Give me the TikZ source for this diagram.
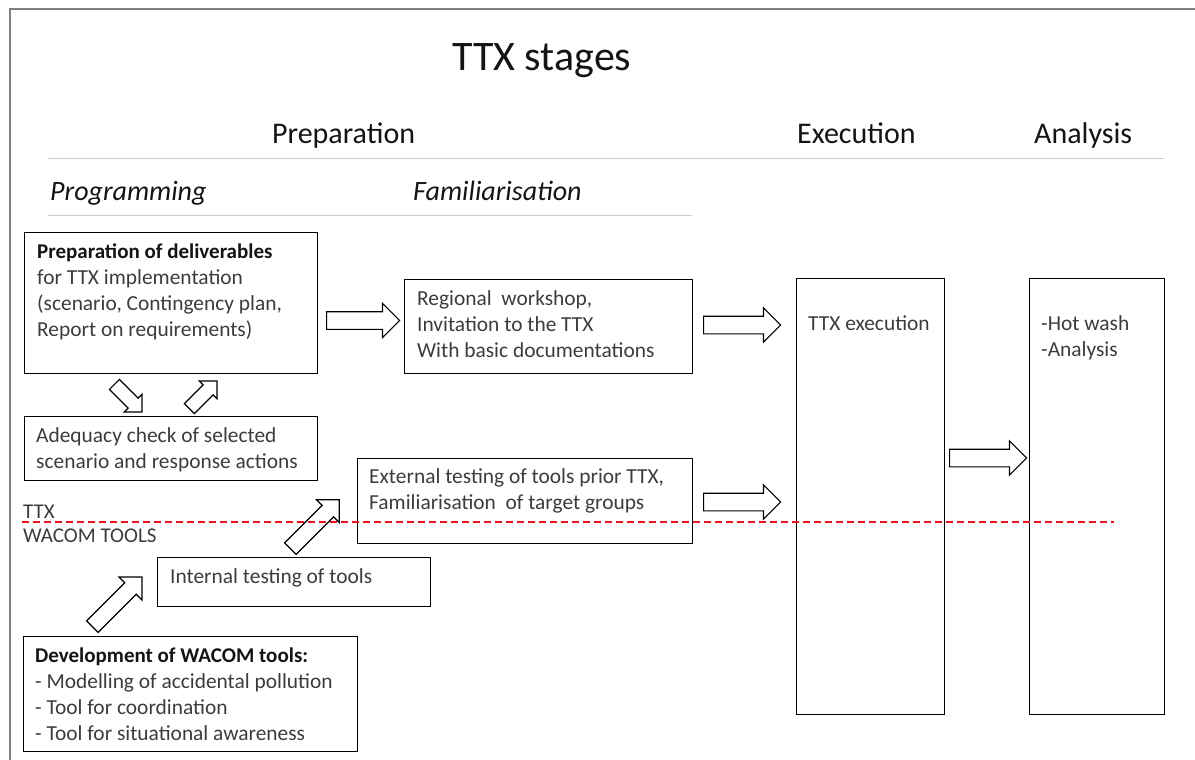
\documentclass[tikz,border=0pt]{standalone}
\usepackage{fontspec}
\setmainfont{Carlito}
\usetikzlibrary{shapes.arrows}

\definecolor{bodytext}{HTML}{3C3C3C}
\definecolor{headtext}{HTML}{141414}
\definecolor{framegray}{HTML}{808080}
\definecolor{rulegray}{HTML}{CDCDCD}
\definecolor{splitred}{HTML}{E8141E}

% bold first line of a box
\newcommand{\boxhead}[1]{{\fontsize{21}{26}\selectfont\textcolor{headtext}{\textbf{#1}}}}

\begin{document}
\begin{tikzpicture}[x=1pt,y=-1pt,
  stagebox/.style={draw=black, line width=1.4pt, anchor=north west, inner sep=0pt},
  boxtext/.style={anchor=base west, inner sep=0pt, text=bodytext,
    font=\fontsize{21.4}{26}\selectfont},
  heading/.style={anchor=base west, inner sep=0pt, text=headtext,
    font=\fontsize{30}{36}\selectfont},
  subheading/.style={anchor=base west, inner sep=0pt, text=headtext,
    font=\fontsize{28}{34}\selectfont\itshape},
  sidelabel/.style={anchor=base west, inner sep=0pt, text=bodytext,
    font=\fontsize{21}{26}\selectfont},
  flowarrow/.style={single arrow, draw=black, line width=1.2pt, fill=white,
    inner xsep=0pt, single arrow tip angle=90, anchor=tail},
  bigarrow/.style={flowarrow, inner ysep=8.25pt, single arrow head extend=8.25pt,
    minimum height=#1},
  midarrow/.style={flowarrow, inner ysep=7.5pt, single arrow head extend=8pt,
    minimum height=#1},
  smallarrow/.style={flowarrow, inner ysep=6.5pt, single arrow head extend=5.5pt,
    minimum height=#1},
]
\useasboundingbox (0,0) rectangle (1195,760);

% page frame
\draw[framegray, line width=1.5pt] (10,760) -- (10,9) -- (1195,9);

% titles and stage headings
\node[anchor=base west, inner sep=0pt, text=headtext, font=\fontsize{42}{50}\selectfont]
  (title) at (452,71) {TTX stages};
\node[heading] (hprep) at (272,143) {Preparation};
\node[heading] (hexec) at (797,143) {Execution};
\node[heading] (hana)  at (1034,143) {Analysis};
\draw[rulegray, line width=1pt] (48,158) -- (1164,158);
\node[subheading] (hprog) at (50,200) {Programming};
\node[subheading] (hfam)  at (413,200) {Familiarisation};
\draw[rulegray, line width=1pt] (48,215) -- (692,215);

% boxes
\node[stagebox, minimum width=293pt, minimum height=141pt] (deliv) at (24,232) {};
\node[boxtext] at ([shift={(13,26)}]deliv.north west)
  {\parbox[t]{320pt}{\boxhead{Preparation of deliverables}\\
   for TTX implementation\\(scenario, Contingency plan,\\Report on requirements)}};

\node[stagebox, minimum width=288pt, minimum height=94pt] (region) at (404,279) {};
\node[boxtext] at ([shift={(13,26)}]region.north west)
  {\parbox[t]{320pt}{Regional\ \ workshop,\\Invitation to the TTX\\With basic documentations}};

\node[stagebox, minimum width=148pt, minimum height=436pt] (exec) at (796,278) {};
\node[boxtext] at ([shift={(12,52)}]exec.north west) {TTX execution};

\node[stagebox, minimum width=135pt, minimum height=436pt] (analysis) at (1029,278) {};
\node[boxtext] at ([shift={(12,52)}]analysis.north west)
  {\parbox[t]{120pt}{-Hot wash\\-Analysis}};

\node[stagebox, minimum width=293pt, minimum height=64pt] (adequacy) at (24,416) {};
\node[boxtext] at ([shift={(12,26)}]adequacy.north west)
  {\parbox[t]{320pt}{Adequacy check of selected\\scenario and response actions}};

\node[stagebox, minimum width=335pt, minimum height=85pt] (external) at (357,458) {};
\node[boxtext] at ([shift={(12,25)}]external.north west)
  {\parbox[t]{340pt}{External testing of tools prior TTX,\\Familiarisation\ \ of target groups}};

\node[stagebox, minimum width=273pt, minimum height=49pt] (internal) at (157,557) {};
\node[boxtext] at ([shift={(13,26)}]internal.north west) {Internal testing of tools};

\node[stagebox, minimum width=334pt, minimum height=115pt] (devel) at (23,636) {};
\node[boxtext] at ([shift={(12,26)}]devel.north west)
  {\parbox[t]{340pt}{\boxhead{Development of WACOM tools:}\\
   - Modelling of accidental pollution\\- Tool for coordination\\- Tool for situational awareness}};

% block arrows between the stages
\node[bigarrow=73pt] (a1) at (326,320.5) {};
\node[bigarrow=77pt] (a2) at (703,325) {};
\node[bigarrow=77pt] (a3) at (703,502) {};
\node[bigarrow=77pt] (a4) at (949,458) {};
\node[smallarrow=39pt, rotate=-45] (a5) at (114,384) {};
\node[smallarrow=39pt, rotate=45]  (a6) at (189,409) {};
\node[midarrow=70pt, rotate=45]    (a7) at (92,627) {};
\node[midarrow=69pt, rotate=45]    (a8) at (290,549) {};

% TTX / WACOM TOOLS split
\node[sidelabel] (lttx) at (23,518) {TTX};
\node[sidelabel] (lwacom) at (23,542) {WACOM TOOLS};
\draw[splitred, line width=1.5pt, dash pattern=on 7pt off 4pt] (22,522) -- (1114,522);

\end{tikzpicture}
\end{document}
